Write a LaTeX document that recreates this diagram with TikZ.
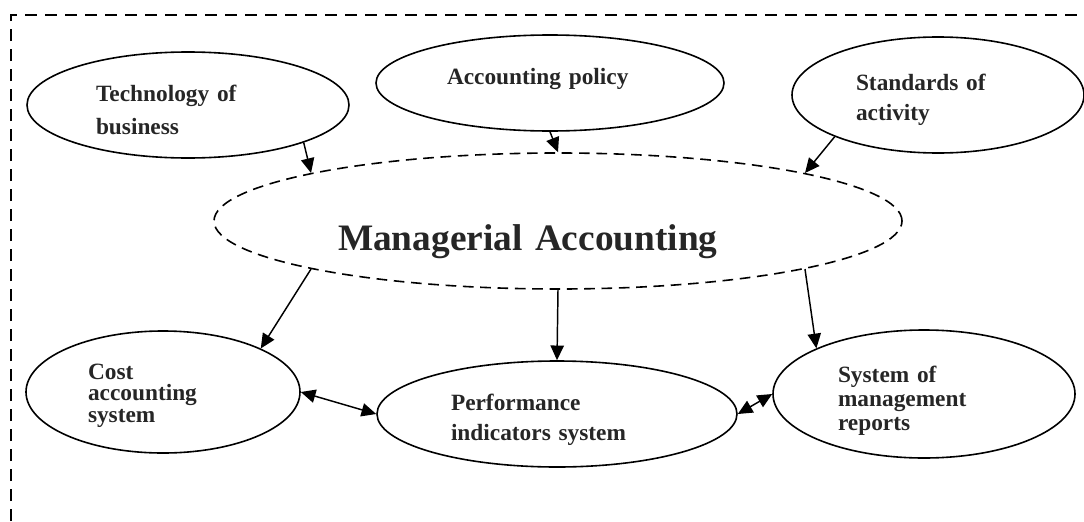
\documentclass[tikz,border=0pt]{standalone}
\usepackage{fontspec}
\setmainfont{Liberation Serif}
\usetikzlibrary{shapes.geometric,arrows.meta}

\begin{document}
\begin{tikzpicture}[x=0.75pt,y=-0.75pt,
    oval/.style={ellipse, draw, line width=1.2pt, inner sep=0pt, align=left, text=black!85},
    small/.style={font=\bfseries\fontsize{17.5}{#1}\selectfont},
    push/.style={execute at begin node={\rule{0pt}{#1}}},
    link/.style={-{Triangle[length=11pt,width=10pt]}, line width=1.1pt},
    both/.style={{Triangle[length=11pt,width=10pt]}-{Triangle[length=11pt,width=10pt]}, line width=1.1pt}]
    \useasboundingbox (0,0) rectangle (1084,521);
    \draw[dash pattern=on 9pt off 6pt, line width=1.5pt] (11,521) -- (11,15) -- (1084,15);

    % top row
    \node[oval, small=24.5pt, push=19.5pt, minimum width=241.5pt, minimum height=79.5pt, text width=138pt] (tech) at (188,105) {Technology of\\business};
    \node[oval, small=24pt, minimum width=261pt, minimum height=72pt, text width=154.5pt, text depth=10pt] (ap) at (550,83) {Accounting policy};
    \node[oval, small=23pt, push=19.5pt, minimum width=219pt, minimum height=87pt, text width=123pt] (sa) at (938,95) {Standards of\\activity};

    % centre
    \node[oval, dash pattern=on 8pt off 5pt, minimum width=516pt, minimum height=102pt, text width=330pt,
          font=\bfseries\fontsize{28}{34}\selectfont, text height=50pt, text depth=6.5pt] (ma) at (558,221) {Managerial Accounting};

    % bottom row
    \node[oval, small=16pt, push=17pt, minimum width=205.5pt, minimum height=91.5pt, text width=112.5pt] (cost) at (163,392) {Cost\\accounting\\system};
    \node[oval, small=22.5pt, push=21pt, minimum width=270pt, minimum height=79.5pt, text width=159pt] (perf) at (557,414) {Performance\\indicators system};
    \node[oval, small=18pt, push=22.5pt, minimum width=226.5pt, minimum height=96pt, text width=129pt] (smr) at (924,394) {System of\\management\\reports};

    \draw[link] (tech.-18) -- (ma.169);
    \draw[link] (ap.south) -- (ma.north);
    \draw[link] (sa.202) -- (ma.11);
    \draw[link] (ma.191.5) -- (cost.24);
    \draw[link] (ma.south) -- (perf.north);
    \draw[link] (ma.-11) -- (smr.157);
    \draw[both] (cost.east) -- (perf.west);
    \draw[both] (perf.east) -- (smr.west);
\end{tikzpicture}
\end{document}
